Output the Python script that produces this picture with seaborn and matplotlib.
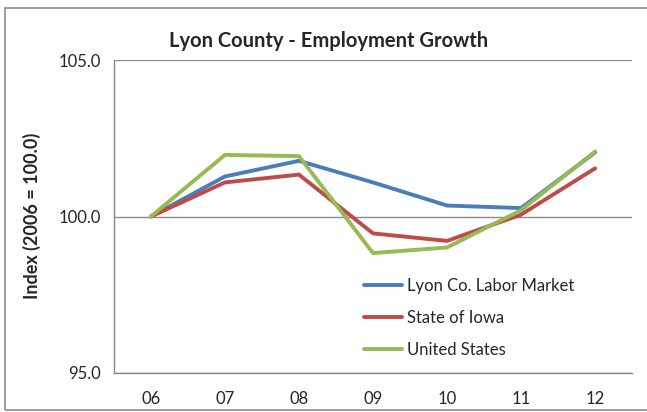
import matplotlib
matplotlib.use("Agg")
import matplotlib.pyplot as plt
import seaborn as sns
import pandas as pd
from matplotlib.patches import Rectangle

years = ["06", "07", "08", "09", "10", "11", "12"]
lyon = [100.0, 101.28, 101.78, 101.09, 100.35, 100.27, 102.05]
iowa = [100.0, 101.09, 101.34, 99.46, 99.22, 100.06, 101.54]
us = [100.0, 101.97, 101.93, 98.83, 99.01, 100.20, 102.08]
series_names = ["Lyon Co. Labor Market", "State of Iowa", "United States"]
colors = ["#4A7EBB", "#BE4B48", "#98B954"]

rows = []
for name, vals in zip(series_names, [lyon, iowa, us]):
    for i, (y, v) in enumerate(zip(years, vals)):
        rows.append({"pos": i, "year": y, "value": v, "series": name})
df = pd.DataFrame(rows)

sns.set_theme(style="white")
plt.rcParams["font.family"] = ["Lato", "DejaVu Sans"]

fig = plt.figure(figsize=(6.47, 4.12), dpi=100)
ax = fig.add_axes([0.176, 0.095, 0.801, 0.759])

sns.lineplot(data=df, x="pos", y="value", hue="series", palette=colors,
             hue_order=series_names, linewidth=2.8, ax=ax, legend=True)

ax.set_xlim(-0.5, 6.5)
ax.set_ylim(95, 105)
ax.set_yticks([95, 100, 105])
ax.set_yticklabels(["95.0", "100.0", "105.0"], fontsize=12)
ax.set_xticks(range(len(years)))
ax.set_xticklabels(years, fontsize=12)
ax.set_xticks([i - 0.5 for i in range(len(years) + 1)], minor=True)
ax.tick_params(axis="x", which="major", length=0, pad=13)
ax.tick_params(axis="x", which="minor", length=5, color="#898989", width=1, direction="out")
ax.tick_params(axis="y", length=5, color="#898989", width=1, direction="out", pad=4)
ax.yaxis.grid(True, color="#8c8c8c", linewidth=1)
ax.xaxis.grid(False)
for s in ["top", "right"]:
    ax.spines[s].set_visible(False)
for s in ["left", "bottom"]:
    ax.spines[s].set_color("#898989")
    ax.spines[s].set_linewidth(1)
ax.set_xlabel("")
ax.set_ylabel("")
fig.text(0.049, 0.476, "Index (2006 = 100.0)", rotation=90, fontsize=13,
         fontweight="bold", ha="center", va="center")
fig.text(0.508, 0.90, "Lyon County - Employment Growth", fontsize=14.5,
         fontweight="bold", ha="center", va="center")

leg = ax.legend(loc="lower left", bbox_to_anchor=(0.454, 0.0), frameon=False,
                fontsize=12, handlelength=2.3, handletextpad=0.3, labelspacing=0.96)
for line in leg.get_lines():
    line.set_linewidth(2.8)

fig.patches.append(Rectangle((0.008, 0.005), 1.5, 0.975, transform=fig.transFigure,
                             fill=False, edgecolor="#8c8c8c", linewidth=1.2))

fig.savefig("out.png", dpi=100)
